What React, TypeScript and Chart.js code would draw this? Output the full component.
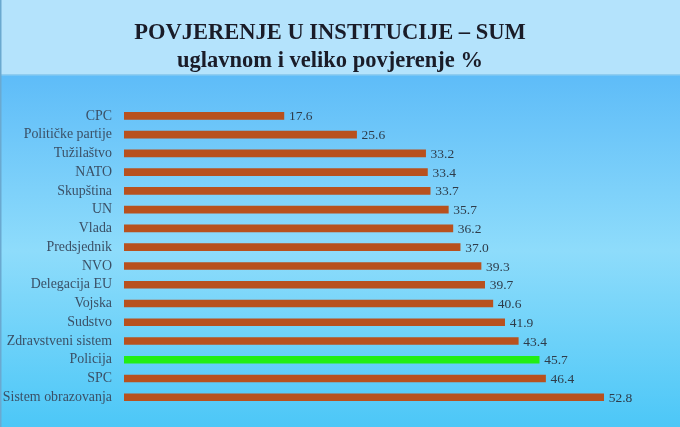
import React, { useEffect, useRef } from "react";
import { Chart, registerables } from "chart.js";

Chart.register(...registerables);

const titleText = "POVJERENJE U INSTITUCIJE – SUM";
const subtitleText = "uglavnom i veliko povjerenje %";

const categories = [
  "CPC",
  "Političke partije",
  "Tužilaštvo",
  "NATO",
  "Skupština",
  "UN",
  "Vlada",
  "Predsjednik",
  "NVO",
  "Delegacija EU",
  "Vojska",
  "Sudstvo",
  "Zdravstveni sistem",
  "Policija",
  "SPC",
  "Sistem obrazovanja",
];

const values = [17.6, 25.6, 33.2, 33.4, 33.7, 35.7, 36.2, 37.0, 39.3, 39.7, 40.6, 41.9, 43.4, 45.7, 46.4, 52.8];

const highlighted = ["Policija"];

const BAR_COLOR = "#b8511e";
const HIGHLIGHT_COLOR = "#22ee14";
const SERIF = "'Liberation Serif', 'DejaVu Serif', serif";

const backgroundPlugin = {
  id: "bgPlugin",
  beforeDraw(chart: any) {
    const { ctx, width, height } = chart;
    ctx.save();
    const g = ctx.createLinearGradient(0, 75, 0, height);
    g.addColorStop(0, "#5ebcf8");
    g.addColorStop(0.5, "#8edcfb");
    g.addColorStop(1, "#4cc7f7");
    ctx.fillStyle = g;
    ctx.fillRect(0, 75, width, height - 75);
    ctx.fillStyle = "#b4e3fc";
    ctx.fillRect(0, 0, width, 75);
    ctx.fillStyle = "#8fcdf0";
    ctx.fillRect(0, 74, width, 1.5);
    ctx.fillStyle = "#6aa9d0";
    ctx.fillRect(0, 0, 1.5, height);
    ctx.restore();
  },
};

const valueLabelPlugin = {
  id: "valueLabels",
  afterDatasetsDraw(chart: any) {
    const { ctx } = chart;
    const meta = chart.getDatasetMeta(0);
    ctx.save();
    ctx.font = `13.5px ${SERIF}`;
    ctx.fillStyle = "#2e3c4a";
    ctx.textAlign = "left";
    ctx.textBaseline = "middle";
    meta.data.forEach((bar: any, i: number) => {
      const v = chart.data.datasets[0].data[i] as number;
      ctx.fillText(v.toFixed(1), bar.x + 5, bar.y + 1);
    });
    ctx.restore();
  },
};

export default function App() {
  const ref = useRef<HTMLCanvasElement | null>(null);

  useEffect(() => {
    document.body.style.margin = "0";
    if (!ref.current) return;
    const chart = new Chart(ref.current, {
      type: "bar",
      data: {
        labels: categories,
        datasets: [
          {
            data: values,
            backgroundColor: categories.map((c) =>
              highlighted.includes(c) ? HIGHLIGHT_COLOR : BAR_COLOR
            ),
            barThickness: 7,
            borderWidth: 0,
          },
        ],
      },
      options: {
        indexAxis: "y",
        animation: false,
        responsive: false,
        maintainAspectRatio: false,
        layout: { padding: { top: 0, right: 20, bottom: 10.6, left: 0 } },
        plugins: {
          legend: { display: false },
          tooltip: { enabled: false },
          title: {
            display: true,
            text: titleText,
            color: "#1a1c28",
            font: { family: SERIF, size: 22.5, weight: "bold", lineHeight: 1 },
            padding: { top: 22, bottom: 0 },
          },
          subtitle: {
            display: true,
            text: subtitleText,
            color: "#1a1c28",
            font: { family: SERIF, size: 22.5, weight: "bold", lineHeight: 1 },
            padding: { top: 5, bottom: 34.5 },
          },
        },
        scales: {
          x: {
            display: false,
            min: 0,
            max: 59,
          },
          y: {
            grid: { display: false, drawTicks: false },
            border: { display: false },
            ticks: {
              color: "#3b5066",
              font: { family: SERIF, size: 13.9 },
              padding: 12,
              autoSkip: false,
            },
            afterFit(scale: any) {
              scale.width = 124;
            },
          },
        },
      },
      plugins: [backgroundPlugin, valueLabelPlugin],
    });
    return () => chart.destroy();
  }, []);

  return (
    <div style={{ width: 680, height: 427 }}>
      <canvas ref={ref} width={680} height={427} style={{ display: "block" }} />
    </div>
  );
}
